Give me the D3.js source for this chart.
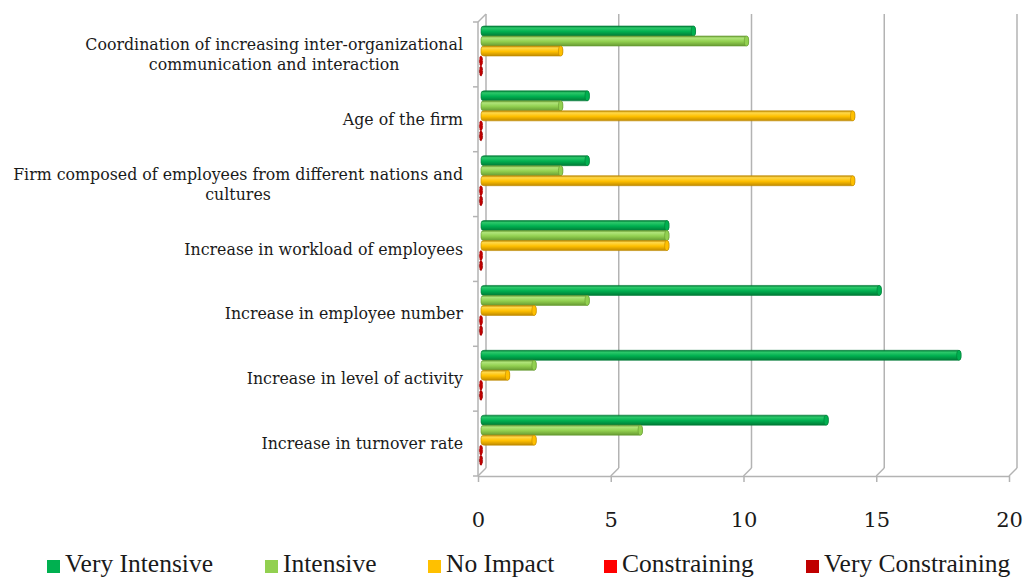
<!DOCTYPE html>
<html>
<head>
<meta charset="utf-8">
<script src="https://cdn.jsdelivr.net/npm/d3@7/dist/d3.min.js"></script>
<style>
  body { margin: 0; background: #fff; }
  svg { display: block; }
  .cat-label { font-family: "DejaVu Serif", serif; font-size: 15.8px; fill: #1a1a1a; }
  .x.axis text { font-family: "DejaVu Serif", serif; font-size: 21px; fill: #1a1a1a; }
  .legend text { font-family: "Liberation Serif", serif; font-size: 25.5px; fill: #1a1a1a; }
</style>
</head>
<body>
<script>
var categories = [
  ["Coordination of increasing inter-organizational", "communication and interaction"],
  ["Age of the firm"],
  ["Firm composed of employees from different nations and", "cultures"],
  ["Increase in workload of employees"],
  ["Increase in employee number"],
  ["Increase in level of activity"],
  ["Increase in turnover rate"]
];
var seriesNames = ["Very Intensive", "Intensive", "No Impact", "Constraining", "Very Constraining"];
var veryIntensive    = [8, 4, 4, 7, 15, 18, 13];
var intensive        = [10, 3, 3, 7, 4, 2, 6];
var noImpact         = [3, 14, 14, 7, 2, 1, 2];
var constraining     = [0, 0, 0, 0, 0, 0, 0];
var veryConstraining = [0, 0, 0, 0, 0, 0, 0];
var xTicks = [0, 5, 10, 15, 20];

var seriesValues = [veryIntensive, intensive, noImpact, constraining, veryConstraining];
var colors = [
  {mid: "#00b050", light: "#2cc86a", dark: "#007a36"},
  {mid: "#92d050", light: "#b0e47a", dark: "#679a32"},
  {mid: "#ffc000", light: "#ffd84a", dark: "#c08a00"},
  {mid: "#ff0000", light: "#ff5050", dark: "#b00000"},
  {mid: "#c00000", light: "#e03030", dark: "#800000"}
];

var w = 1029, h = 578;
var depth = 8; // 3d offset of the back wall

var svg = d3.select("body").append("svg")
  .attr("width", w)
  .attr("height", h);

var defs = svg.append("defs");
colors.forEach(function(c, i){
  var g = defs.append("linearGradient")
    .attr("id", "grad" + i)
    .attr("x1", 0).attr("y1", 0).attr("x2", 0).attr("y2", 1);
  g.append("stop").attr("offset", "0%").attr("stop-color", c.dark);
  g.append("stop").attr("offset", "20%").attr("stop-color", c.light);
  g.append("stop").attr("offset", "55%").attr("stop-color", c.mid);
  g.append("stop").attr("offset", "100%").attr("stop-color", c.dark);
});

var x = d3.scaleLinear()
  .domain([0, 20])
  .range([478, 1009]);

var y = d3.scaleBand()
  .domain(d3.range(categories.length))
  .range([22, 476])
  .paddingInner(0)
  .paddingOuter(0);

var ySeries = d3.scaleBand()
  .domain(d3.range(seriesNames.length))
  .range([4, 54]);

var gridColor = "#b3b3b3";
var floorY = y.range()[1];
var topY = y.range()[0];

// back wall gridlines
var grid = svg.append("g").classed("grid", true);
grid.selectAll(".back")
  .data(xTicks)
  .enter().append("line")
  .attr("x1", function(d){ return x(d) + depth; })
  .attr("x2", function(d){ return x(d) + depth; })
  .attr("y1", topY - depth)
  .attr("y2", floorY - depth)
  .attr("stroke", gridColor)
  .attr("stroke-width", 1.5);

// floor connectors
grid.selectAll(".floor")
  .data(xTicks)
  .enter().append("line")
  .attr("x1", function(d){ return x(d); })
  .attr("x2", function(d){ return x(d) + depth; })
  .attr("y1", floorY)
  .attr("y2", floorY - depth)
  .attr("stroke", gridColor)
  .attr("stroke-width", 1.5);

// left wall
grid.append("line")
  .attr("x1", x(0)).attr("x2", x(0))
  .attr("y1", topY).attr("y2", floorY)
  .attr("stroke", gridColor).attr("stroke-width", 1.5);
grid.append("line")
  .attr("x1", x(0)).attr("x2", x(0) + depth)
  .attr("y1", topY).attr("y2", topY - depth)
  .attr("stroke", gridColor).attr("stroke-width", 1.5);

// category boundary ticks
grid.selectAll(".cattick")
  .data(d3.range(categories.length + 1))
  .enter().append("line")
  .attr("x1", x(0) - 5)
  .attr("x2", x(0))
  .attr("y1", function(i){ return topY + i * y.bandwidth(); })
  .attr("y2", function(i){ return topY + i * y.bandwidth(); })
  .attr("stroke", gridColor).attr("stroke-width", 1.5);

// x axis (front edge of floor)
var xAxis = svg.append("g")
  .classed("x axis", true)
  .attr("transform", "translate(0," + floorY + ")")
  .call(d3.axisBottom(x).tickValues(xTicks).tickSize(6).tickSizeOuter(0).tickPadding(30));
xAxis.select(".domain").attr("stroke", gridColor).attr("stroke-width", 1.5);
xAxis.selectAll(".tick line").attr("stroke", gridColor).attr("stroke-width", 1.5);
xAxis.selectAll("text").attr("dy", "0.71em");

// bars
var chart = svg.append("g").classed("display", true);
var rows = chart.selectAll(".row")
  .data(categories)
  .enter().append("g")
  .classed("row", true)
  .attr("transform", function(d, i){ return "translate(0," + y(i) + ")"; });

var bx0 = x(0) + 3;
seriesValues.forEach(function(vals, s){
  rows.append("rect")
    .classed("bar", true)
    .attr("x", bx0)
    .attr("y", ySeries(s))
    .attr("width", function(d, i){ return Math.max(0, x(vals[i]) + 5 - bx0); })
    .attr("height", ySeries.bandwidth())
    .attr("rx", 3)
    .attr("fill", "url(#grad" + s + ")")
    .attr("stroke", colors[s].dark)
    .attr("stroke-width", 0.6)
    .attr("display", function(d, i){ return vals[i] > 0 ? null : "none"; });
  // end cap
  rows.append("ellipse")
    .attr("cx", function(d, i){ return vals[i] > 0 ? x(vals[i]) + 3 : bx0; })
    .attr("cy", ySeries(s) + ySeries.bandwidth() / 2)
    .attr("rx", function(d, i){ return vals[i] > 0 ? 2.2 : 1.6; })
    .attr("ry", ySeries.bandwidth() / 2)
    .attr("fill", function(d, i){ return vals[i] > 0 ? colors[s].mid : colors[4].mid; })
    .attr("stroke", colors[s].dark)
    .attr("stroke-width", 0.6)
    .attr("stroke-dasharray", function(d, i){ return vals[i] > 0 ? null : "3,1.5"; });
});

// category labels
var labelX = 463;
var lineH = 20;
rows.each(function(lines, i){
  var g = d3.select(this);
  var t = g.append("text")
    .classed("cat-label", true)
    .attr("text-anchor", "middle");
  var cy = y.bandwidth() / 2 - (lines.length - 1) * lineH / 2;
  lines.forEach(function(line, k){
    t.append("tspan")
      .attr("y", cy + k * lineH)
      .attr("dy", "0.35em")
      .text(line);
  });
  var maxW = 0;
  t.selectAll("tspan").each(function(){
    maxW = Math.max(maxW, this.getComputedTextLength());
  });
  t.selectAll("tspan").attr("x", labelX - maxW / 2);
});

// legend
var legendX = [47, 265, 428, 604, 806];
var legend = svg.append("g").classed("legend", true);
var items = legend.selectAll(".item")
  .data(seriesNames)
  .enter().append("g")
  .classed("item", true)
  .attr("transform", function(d, i){ return "translate(" + legendX[i] + ",560)"; });
items.append("rect")
  .attr("width", 13)
  .attr("height", 13)
  .attr("fill", function(d, i){ return colors[i].mid; });
items.append("text")
  .attr("x", 18)
  .attr("y", 12)
  .text(function(d){ return d; });
</script>
</body>
</html>
